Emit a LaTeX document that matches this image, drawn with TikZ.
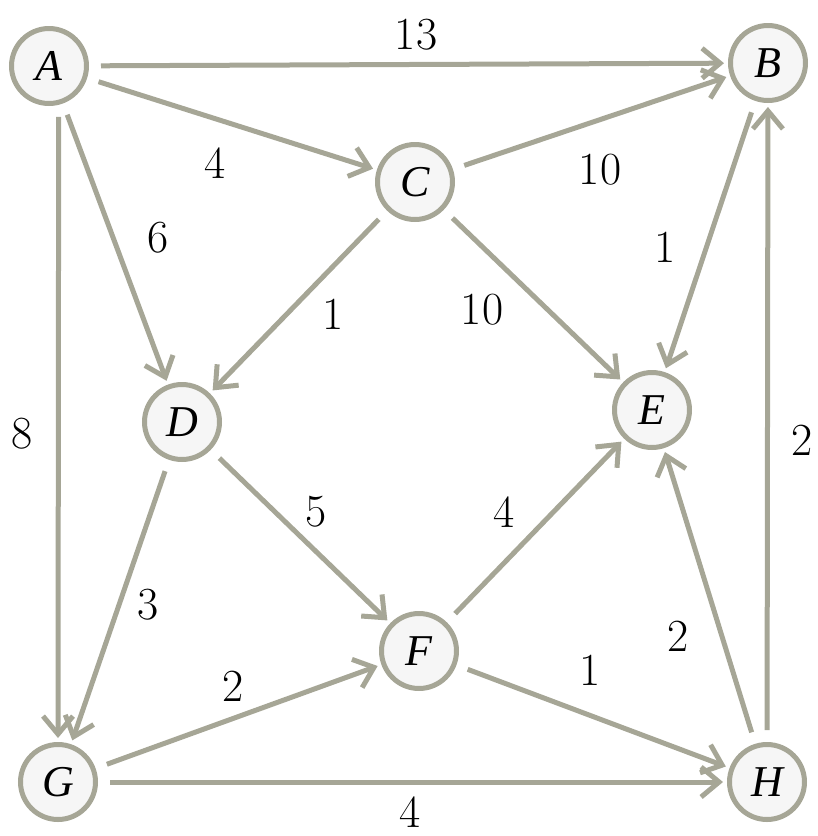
\documentclass[tikz,border=0pt]{standalone}
\usepackage{fontspec}
\newfontfamily\timesfont{Liberation Serif}
\usetikzlibrary{arrows.meta}
\definecolor{edgegray}{RGB}{166,166,150}
\definecolor{nodefill}{RGB}{246,246,246}
\begin{document}
\begin{tikzpicture}[x=1pt,y=-1pt,
  vertex/.style={circle,draw=edgegray,fill=nodefill,line width=5pt,minimum size=75pt,inner sep=0pt,font=\timesfont\fontsize{44}{48}\selectfont\itshape},
  edge/.style={draw=edgegray,line width=5pt,-{Straight Barb[length=18pt,width=30pt]},shorten <=12pt,shorten >=4pt},
  wlabel/.style={font=\fontsize{46}{48}\selectfont,inner sep=0pt}]
\useasboundingbox (0,0) rectangle (818,836);
\node[vertex] (A) at (49,66) {A};
\node[vertex] (B) at (768,63) {B};
\node[vertex] (C) at (415,182) {C};
\node[vertex] (D) at (182,422) {D};
\node[vertex] (E) at (652,410) {E};
\node[vertex] (F) at (419,651) {F};
\node[vertex] (G) at (58,782) {G};
\node[vertex] (H) at (767,782) {H};
\draw[edge] (A) -- (B);
\draw[edge] (A) -- (C);
\draw[edge] (A) -- (D);
\draw[edge] (A.-76) -- (G.north);
\draw[edge] (C) -- (B);
\draw[edge] (C) -- (D);
\draw[edge] (C) -- (E);
\draw[edge] (B) -- (E);
\draw[edge] (D) -- (F);
\draw[edge] (D) -- (G);
\draw[edge] (F) -- (E);
\draw[edge] (F) -- (H);
\draw[edge] (G) -- (F);
\draw[edge] (G) -- (H);
\draw[edge] (H) -- (E);
\draw[edge] (H) -- (B);
\node[wlabel] (l13) at (416,35) {13};
\node[wlabel] (lAC) at (215,163) {4};
\node[wlabel] (lAD) at (158,238) {6};
\node[wlabel] (lCB) at (600,170) {10};
\node[wlabel] (lBE) at (665,247) {1};
\node[wlabel] (lCD) at (333,314) {1};
\node[wlabel] (lCE) at (482,310) {10};
\node[wlabel] (lAG) at (22,434) {8};
\node[wlabel] (lHB) at (802,440) {2};
\node[wlabel] (lDF) at (316,512) {5};
\node[wlabel] (lFE) at (504,512) {4};
\node[wlabel] (lDG) at (148,605) {3};
\node[wlabel] (lHE) at (678,636) {2};
\node[wlabel] (lGF) at (233,686) {2};
\node[wlabel] (lFH) at (590,670) {1};
\node[wlabel] (lGH) at (410,812) {4};
\end{tikzpicture}
\end{document}
